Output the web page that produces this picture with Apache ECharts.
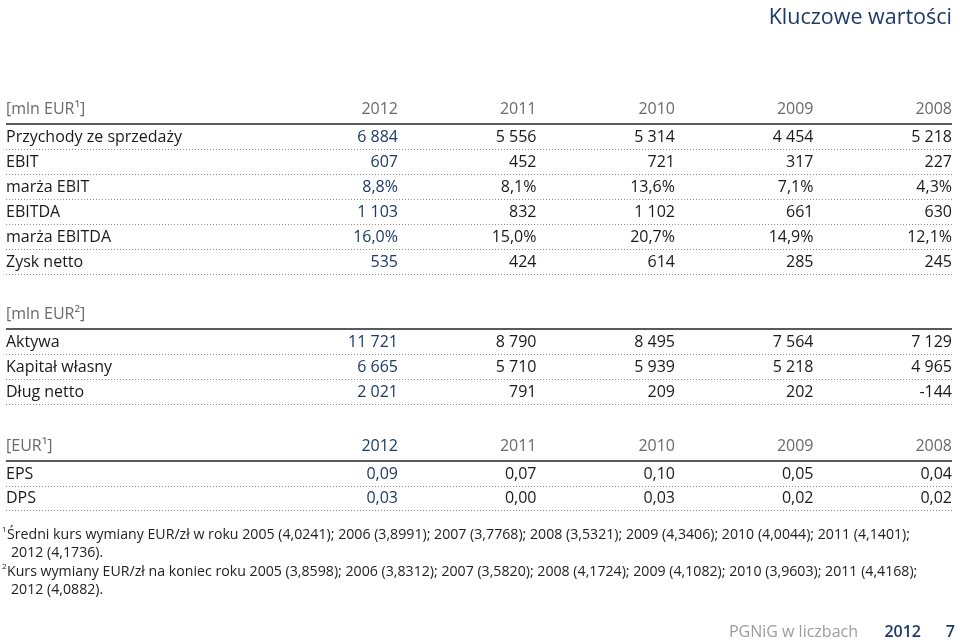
<!DOCTYPE html>
<html><head><meta charset="utf-8">
<script src="https://cdn.jsdelivr.net/npm/echarts@6/dist/echarts.min.js"></script>
<style>html,body{margin:0;padding:0;background:#fff}#c{width:960px;height:644px}</style>
</head><body><div id="c"></div>
<script>
// ---- data ----
const years = ['2012', '2011', '2010', '2009', '2008'];

const sec1Header = '[mln EUR¹]';
const sec1Labels = ['Przychody ze sprzedaży', 'EBIT', 'marża EBIT', 'EBITDA', 'marża EBITDA', 'Zysk netto'];
const revenue = [6884, 5556, 5314, 4454, 5218];
const ebit = [607, 452, 721, 317, 227];
const ebitMargin = [8.8, 8.1, 13.6, 7.1, 4.3];
const ebitda = [1103, 832, 1102, 661, 630];
const ebitdaMargin = [16.0, 15.0, 20.7, 14.9, 12.1];
const netProfit = [535, 424, 614, 285, 245];

const sec2Header = '[mln EUR²]';
const sec2Labels = ['Aktywa', 'Kapitał własny', 'Dług netto'];
const assets = [11721, 8790, 8495, 7564, 7129];
const equity = [6665, 5710, 5939, 5218, 4965];
const netDebt = [2021, 791, 209, 202, -144];

const sec3Header = '[EUR¹]';
const sec3Labels = ['EPS', 'DPS'];
const eps = [0.09, 0.07, 0.10, 0.05, 0.04];
const dps = [0.03, 0.00, 0.03, 0.02, 0.02];

const footnote1 = ['Średni kurs wymiany EUR/zł w roku 2005 (4,0241); 2006 (3,8991); 2007 (3,7768); 2008 (3,5321); 2009 (4,3406); 2010 (4,0044); 2011 (4,1401);', '2012 (4,1736).'];
const footnote2 = ['Kurs wymiany EUR/zł na koniec roku 2005 (3,8598); 2006 (3,8312); 2007 (3,5820); 2008 (4,1724); 2009 (4,1082); 2010 (3,9603); 2011 (4,4168);', '2012 (4,0882).'];

const titleText = 'Kluczowe wartości';
const footerText = 'PGNiG w liczbach';
const footerYear = '2012';
const pageNo = '7';

// ---- formatting ----
function fmt(v, dec, suffix) {
  const neg = v < 0;
  const parts = Math.abs(v).toFixed(dec).split('.');
  const intPart = parts[0].replace(/\B(?=(\d{3})+(?!\d))/g, ' ');
  return (neg ? '-' : '') + intPart + (parts[1] ? ',' + parts[1] : '') + (suffix || '');
}

const sections = [
  { header: sec1Header, showYears: true, yearHi: false, labels: sec1Labels,
    rows: [[revenue, 0, ''], [ebit, 0, ''], [ebitMargin, 1, '%'], [ebitda, 0, ''], [ebitdaMargin, 1, '%'], [netProfit, 0, '']] },
  { header: sec2Header, showYears: false, yearHi: false, labels: sec2Labels,
    rows: [[assets, 0, ''], [equity, 0, ''], [netDebt, 0, '']] },
  { header: sec3Header, showYears: true, yearHi: true, labels: sec3Labels,
    rows: [[eps, 2, ''], [dps, 2, '']] }
];

// ---- layout ----
const FONT = '"Open Sans", "Noto Sans", sans-serif';
const FS = 16;
const NAVY = '#1d3a66';
const GRAY = '#6a6a6a';
const DARK = '#1a1a1a';
const gridLayout = [
  { top: 99, height: 175.4 },
  { top: 304, height: 100 },
  { top: 436.5, height: 73.5 }
];

function makeRender(sec) {
  return function (params, api) {
    const r = api.value(1);
    const cs = params.coordSys;
    const cy = api.coord([0, r])[1];
    const h = api.size([0, 1])[1];
    const isHeader = r === 0;
    const children = [];
    const ty = cy + (isHeader ? -2 : 1);
    children.push({ type: 'text', style: {
      text: isHeader ? sec.header : sec.labels[r - 1], x: cs.x, y: ty,
      align: 'left', verticalAlign: 'middle', fill: isHeader ? GRAY : DARK,
      fontSize: FS, fontFamily: FONT } });
    for (let j = 0; j < 5; j++) {
      const p = api.coord([j + 1, r]);
      let txt, col;
      if (isHeader) {
        txt = sec.showYears ? years[j] : '';
        col = (sec.yearHi && j === 0) ? NAVY : GRAY;
      } else {
        const row = sec.rows[r - 1];
        txt = fmt(row[0][j], row[1], row[2]);
        col = j === 0 ? NAVY : DARK;
      }
      children.push({ type: 'text', style: {
        text: txt, x: p[0], y: ty, align: 'right', verticalAlign: 'middle',
        fill: col, fontSize: FS, fontFamily: FONT } });
    }
    const ly = cy + h / 2;
    if (isHeader) {
      children.push({ type: 'line', shape: { x1: cs.x, y1: Math.round(ly), x2: cs.x + cs.width, y2: Math.round(ly) },
        style: { stroke: '#5a5a5a', lineWidth: 2.2 } });
    } else {
      const yy = Math.round(ly) + 0.5;
      children.push({ type: 'line', shape: { x1: cs.x, y1: yy, x2: cs.x + cs.width, y2: yy },
        style: { stroke: '#8c8c8c', lineWidth: 1, lineDash: [1, 2] } });
    }
    return { type: 'group', children };
  };
}

const grids = [], xAxes = [], yAxes = [], series = [];
sections.forEach((sec, i) => {
  grids.push({ left: 6, right: 8, top: gridLayout[i].top, height: gridLayout[i].height, containLabel: false });
  xAxes.push({ type: 'value', gridIndex: i, min: -1.83, max: 5, show: false });
  const cats = ['header'].concat(sec.labels);
  yAxes.push({ type: 'category', gridIndex: i, data: cats, inverse: true, show: false });
  series.push({ type: 'custom', xAxisIndex: i, yAxisIndex: i, silent: true,
    renderItem: makeRender(sec), data: cats.map((_, k) => [0, k]) });
});

// ---- footnotes scaling ----
const FN_FS = 15;
const cnv = document.createElement('canvas').getContext('2d');
cnv.font = FN_FS + 'px "Open Sans"';
const fnScale = 903 / cnv.measureText(footnote1[0]).width;

function fnText(txt, x, y) {
  return { type: 'text', x: x, y: y, scaleX: fnScale, silent: true,
    style: { text: txt, fill: '#222', fontSize: FN_FS, fontFamily: FONT, verticalAlign: 'middle' } };
}
function supText(txt, x, y) {
  return { type: 'text', x: x, y: y, silent: true,
    style: { text: txt, fill: '#222', fontSize: 8, fontFamily: FONT, verticalAlign: 'middle' } };
}

const graphic = [
  { type: 'text', right: 8, top: 7, silent: true,
    style: { text: titleText, fill: NAVY, fontSize: 21.5, fontFamily: FONT } },
  supText('1', 2, 530), fnText(footnote1[0], 7, 535), fnText(footnote1[1], 11, 553),
  supText('2', 2, 567), fnText(footnote2[0], 7, 572), fnText(footnote2[1], 11, 590),
  { type: 'text', x: 858, y: 632, silent: true,
    style: { text: footerText, fill: '#9c9c9c', fontSize: 16, fontFamily: FONT, align: 'right', verticalAlign: 'middle' } },
  { type: 'text', x: 921, y: 632, silent: true,
    style: { text: footerYear, fill: NAVY, fontSize: 16, fontWeight: 600, fontFamily: FONT, align: 'right', verticalAlign: 'middle' } },
  { type: 'text', x: 955, y: 632, silent: true,
    style: { text: pageNo, fill: NAVY, fontSize: 16, fontWeight: 600, fontFamily: FONT, align: 'right', verticalAlign: 'middle' } }
];

const chart = echarts.init(document.getElementById('c'), null, { renderer: 'canvas' });
chart.setOption({
  animation: false,
  backgroundColor: '#ffffff',
  grid: grids, xAxis: xAxes, yAxis: yAxes, series: series, graphic: graphic
});
</script>
</body></html>
